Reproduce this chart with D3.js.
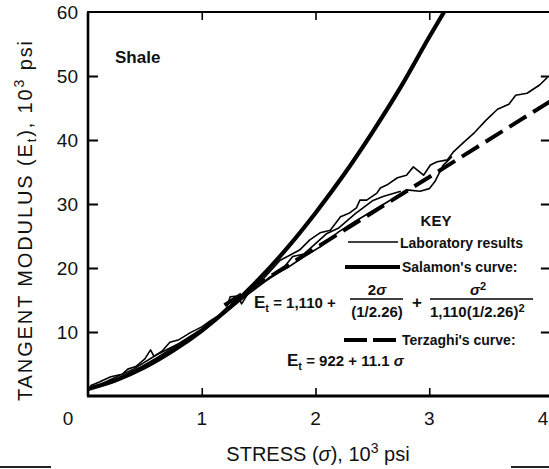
<!DOCTYPE html>
<html>
<head>
<meta charset="utf-8">
<script src="https://cdn.jsdelivr.net/npm/d3@7"></script>
<style>
  html, body { margin: 0; padding: 0; background: #fff; }
  svg { display: block; }
  text { font-family: "Liberation Sans", Arial, sans-serif; fill: #111; }
</style>
</head>
<body>
<svg id="chart" width="549" height="469"></svg>
<script>
// ---- data (stress in 10^3 psi, tangent modulus in 10^3 psi) ----
const xTicks = [1, 2, 3, 4];
const yTicks = [10, 20, 30, 40, 50, 60];
const rightTicks = [10, 20, 30, 40, 50];

// Salamon's curve
const salamonStress  = [0, 0.25, 0.5, 0.75, 1.0, 1.25, 1.5, 1.75, 2.0, 2.25, 2.5, 2.75, 3.0, 3.13];
const salamonModulus = [1.1, 2.5, 4.5, 7.1, 10.2, 13.9, 18.2, 23.1, 28.6, 34.6, 41.2, 48.3, 56.1, 60.0];

// Terzaghi's curve
const terzaghiStress  = [1.2, 4.06];
const terzaghiModulus = [14.2, 46.0];

// Laboratory results (three test records)
const lab1Stress  = [0.02, 0.1, 0.2, 0.3, 0.35, 0.42, 0.5, 0.55, 0.58, 0.65, 0.72, 0.8, 0.9, 1.0, 1.08, 1.15, 1.22, 1.25, 1.32, 1.35, 1.45, 1.55, 1.69, 1.86, 1.95, 2.04, 2.13, 2.22, 2.30, 2.36, 2.39, 2.45, 2.54, 2.57, 2.63, 2.72, 2.80, 2.86, 2.95, 3.01, 3.07, 3.16, 3.21, 3.30, 3.40, 3.50, 3.60, 3.70, 3.76, 3.86, 3.97, 4.04];
const lab1Modulus = [1.6, 2.2, 3.0, 3.4, 4.2, 4.6, 5.8, 7.2, 6.2, 7.0, 8.4, 8.8, 9.9, 10.8, 11.8, 12.6, 13.8, 15.5, 15.6, 14.4, 17.2, 18.5, 21.2, 22.8, 24.4, 25.5, 25.9, 28.0, 28.6, 29.4, 30.6, 30.6, 31.7, 32.5, 33.0, 34.1, 34.5, 35.8, 34.5, 36.1, 36.6, 36.9, 38.1, 39.6, 41.2, 43.1, 44.8, 45.6, 47.0, 47.3, 48.6, 49.8];

const lab2Stress  = [0.03, 0.15, 0.3, 0.45, 0.6, 0.75, 0.9, 1.05, 1.2, 1.3, 1.45, 1.6, 1.75, 1.9, 2.05, 2.2, 2.35, 2.5, 2.65, 2.8, 2.92, 3.0, 3.05, 3.12, 3.2];
const lab2Modulus = [1.2, 2.0, 3.1, 4.4, 5.9, 7.6, 9.2, 10.9, 13.1, 14.6, 16.5, 18.6, 20.0, 21.8, 23.4, 25.6, 27.3, 28.9, 30.5, 32.2, 32.0, 32.4, 33.5, 36.0, 37.4];

const lab3Stress  = [0.05, 0.2, 0.4, 0.6, 0.8, 1.0, 1.2, 1.4, 1.55, 1.7, 1.8, 1.9, 2.0, 2.1, 2.2, 2.35, 2.5, 2.6, 2.75];
const lab3Modulus = [1.3, 2.6, 4.2, 6.4, 8.2, 10.5, 12.9, 15.8, 17.8, 19.6, 21.8, 22.2, 23.8, 25.4, 26.2, 28.5, 30.5, 31.2, 32.0];

// ---- scales ----
const svg = d3.select("#chart");
const x = d3.scaleLinear().domain([0, 4]).range([88, 543]);
const y = d3.scaleLinear().domain([0, 60]).range([396, 12]);
const xFrameMax = 4.06;

const zip = (a, b) => a.map((v, i) => [v, b[i]]);
const line = d3.line().x(d => x(d[0])).y(d => y(d[1]));

// clip for curves inside the frame
svg.append("clipPath").attr("id", "plotClip")
  .append("rect")
  .attr("x", x(0)).attr("y", y(60))
  .attr("width", x(xFrameMax) - x(0)).attr("height", y(0) - y(60));

// ---- frame ----
const frame = svg.append("g").attr("stroke", "#000").attr("fill", "none");
frame.append("line").attr("x1", x(0)).attr("x2", x(0)).attr("y1", y(60)).attr("y2", y(0)).attr("stroke-width", 2.6);
frame.append("line").attr("x1", x(0) - 1).attr("x2", x(xFrameMax)).attr("y1", y(0)).attr("y2", y(0)).attr("stroke-width", 3);
frame.append("line").attr("x1", x(0) - 1).attr("x2", x(xFrameMax)).attr("y1", y(60)).attr("y2", y(60)).attr("stroke-width", 2);

// left axis (ticks pointing inward)
const yAxis = d3.axisRight(y).tickValues(yTicks.filter(v => v < 60)).tickSize(10).tickFormat("");
svg.append("g").attr("transform", `translate(${x(0)},0)`).call(yAxis)
  .call(g => g.select(".domain").remove())
  .call(g => g.selectAll("line").attr("stroke-width", 2));
svg.append("g").selectAll("text").data(yTicks).join("text")
  .attr("x", x(0) - 10).attr("y", d => y(d) + 7)
  .attr("text-anchor", "end").attr("font-size", 19).text(d => d);

// right side ticks
svg.append("g").attr("transform", `translate(${x(xFrameMax)},0)`)
  .call(d3.axisLeft(y).tickValues(rightTicks).tickSize(9).tickFormat(""))
  .call(g => g.select(".domain").remove())
  .call(g => g.selectAll("line").attr("stroke-width", 2));

// bottom axis (ticks pointing up)
svg.append("g").attr("transform", `translate(0,${y(0)})`)
  .call(d3.axisTop(x).tickValues(xTicks.filter(v => v < 4)).tickSize(8).tickFormat(""))
  .call(g => g.select(".domain").remove())
  .call(g => g.selectAll("line").attr("stroke-width", 1.6));
svg.append("g").selectAll("text").data(xTicks).join("text")
  .attr("x", d => x(d)).attr("y", y(0) + 29)
  .attr("text-anchor", "middle").attr("font-size", 19).text(d => d);
svg.append("text").attr("x", x(0) - 20).attr("y", y(0) + 29)
  .attr("text-anchor", "middle").attr("font-size", 19).text("0");

// top frame ticks (pointing down)
svg.append("g").attr("transform", `translate(0,${y(60)})`)
  .call(d3.axisBottom(x).tickValues([1, 2, 3]).tickSize(8).tickFormat(""))
  .call(g => g.select(".domain").remove())
  .call(g => g.selectAll("line").attr("stroke-width", 1.6));

// axis titles
const xTitle = svg.append("text").attr("x", 318).attr("y", 461)
  .attr("text-anchor", "middle").attr("font-size", 20);
xTitle.append("tspan").text("STRESS (");
xTitle.append("tspan").attr("font-style", "italic").text("σ");
xTitle.append("tspan").text("), 10");
xTitle.append("tspan").attr("dy", -8).attr("font-size", 14).text("3");
xTitle.append("tspan").attr("dy", 8).text(" psi");

const yTitle = svg.append("text")
  .attr("transform", "translate(32,221) rotate(-90)")
  .attr("text-anchor", "middle").attr("font-size", 20)
  .attr("textLength", 360).attr("lengthAdjust", "spacing");
yTitle.append("tspan").text("TANGENT  MODULUS (E");
yTitle.append("tspan").attr("dy", 4).attr("font-size", 13).text("t");
yTitle.append("tspan").attr("dy", -4).text("),  10");
yTitle.append("tspan").attr("dy", -8).attr("font-size", 14).text("3");
yTitle.append("tspan").attr("dy", 8).text("  psi");

svg.append("text").attr("x", 115).attr("y", 63).attr("font-size", 17)
  .attr("font-weight", "bold").text("Shale");

// ---- curves ----
const curves = svg.append("g").attr("clip-path", "url(#plotClip)").attr("fill", "none").attr("stroke", "#000")
  .attr("stroke-linejoin", "round");

[[lab1Stress, lab1Modulus], [lab2Stress, lab2Modulus], [lab3Stress, lab3Modulus]].forEach(([s, m]) => {
  curves.append("path").attr("d", line(zip(s, m))).attr("stroke-width", 1.6);
});

curves.append("path").attr("d", d3.line().curve(d3.curveMonotoneX).x(d => x(d[0])).y(d => y(d[1]))(zip(salamonStress, salamonModulus)))
  .attr("stroke-width", 4.2);

curves.append("path").attr("d", line(zip(terzaghiStress, terzaghiModulus)))
  .attr("stroke-width", 4).attr("stroke-dasharray", "20 8");

// ---- key ----
const key = svg.append("g");
key.append("text").attr("x", 436).attr("y", 226).attr("text-anchor", "middle")
  .attr("font-size", 15).attr("font-weight", "bold").text("KEY");

key.append("line").attr("x1", 348).attr("x2", 398).attr("y1", 242).attr("y2", 242).attr("stroke", "#000").attr("stroke-width", 1.6);
key.append("text").attr("x", 400).attr("y", 248).attr("font-size", 14).attr("font-weight", "bold").text("Laboratory results");

key.append("line").attr("x1", 345).attr("x2", 400).attr("y1", 267).attr("y2", 267).attr("stroke", "#000").attr("stroke-width", 4);
key.append("text").attr("x", 402).attr("y", 272).attr("font-size", 14).attr("font-weight", "bold").text("Salamon's curve:");

// Salamon formula
const f = key.append("g").attr("font-size", 15).attr("font-weight", "bold");
const e1 = f.append("text").attr("x", 254).attr("y", 308);
e1.append("tspan").attr("font-size", 17).text("E");
e1.append("tspan").attr("dy", 4).attr("font-size", 11).text("t");
e1.append("tspan").attr("dy", -4).text(" = 1,110  +");
f.append("text").attr("x", 377).attr("y", 295).attr("text-anchor", "middle").html('2<tspan font-style="italic">σ</tspan>');
f.append("line").attr("x1", 350).attr("x2", 403).attr("y1", 299).attr("y2", 299).attr("stroke", "#000").attr("stroke-width", 1.5);
f.append("text").attr("x", 377).attr("y", 317).attr("text-anchor", "middle").text("(1/2.26)");
f.append("text").attr("x", 417).attr("y", 308).attr("text-anchor", "middle").attr("font-size", 17).text("+");
f.append("text").attr("x", 478).attr("y", 295).attr("text-anchor", "middle").html('<tspan font-style="italic">σ</tspan><tspan dy="-5" font-size="11">2</tspan>');
f.append("line").attr("x1", 430).attr("x2", 533).attr("y1", 299).attr("y2", 299).attr("stroke", "#000").attr("stroke-width", 1.5);
f.append("text").attr("x", 430).attr("y", 317).html('1,110(1/2.26)<tspan dy="-5" font-size="11">2</tspan>');

key.append("line").attr("x1", 344).attr("x2", 399).attr("y1", 340).attr("y2", 340).attr("stroke", "#000").attr("stroke-width", 4).attr("stroke-dasharray", "23 6");
key.append("text").attr("x", 402).attr("y", 345).attr("font-size", 14).attr("font-weight", "bold").text("Terzaghi's curve:");

const e2 = key.append("text").attr("x", 287).attr("y", 366).attr("font-size", 15).attr("font-weight", "bold");
e2.append("tspan").attr("font-size", 17).text("E");
e2.append("tspan").attr("dy", 4).attr("font-size", 11).text("t");
e2.append("tspan").attr("dy", -4).text(" = 922  +  11.1 ");
e2.append("tspan").attr("font-style", "italic").text("σ");

// page edge rules from the neighbouring figure
svg.append("g").attr("stroke", "#222").attr("stroke-width", 2)
  .selectAll("line").data([[0, 51], [511, 549]]).join("line")
  .attr("x1", d => d[0]).attr("x2", d => d[1]).attr("y1", 467).attr("y2", 467);
</script>
</body>
</html>
